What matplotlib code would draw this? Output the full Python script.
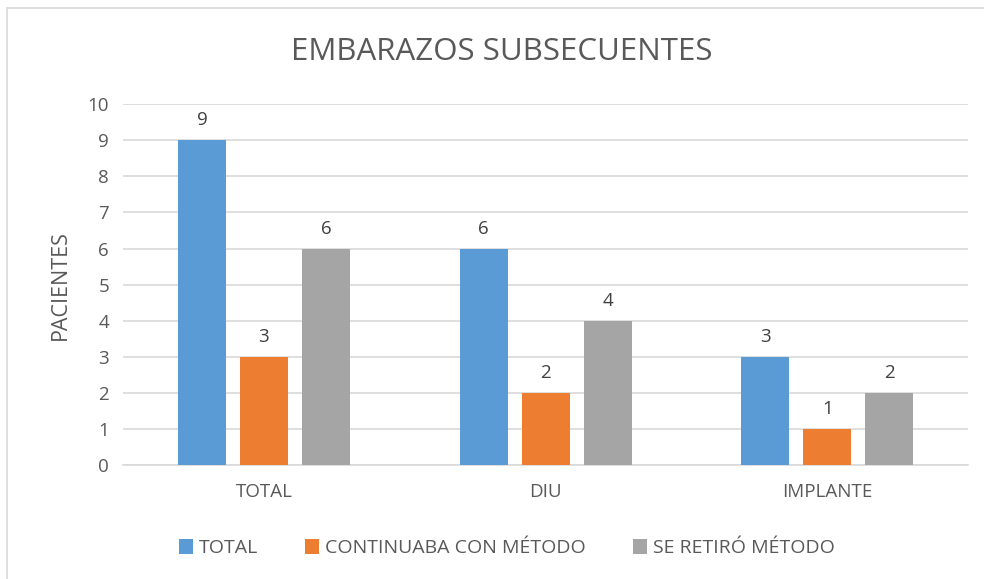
import matplotlib.pyplot as plt
import numpy as np
from matplotlib.patches import Rectangle

# data
categories = ['TOTAL', 'DIU', 'IMPLANTE']
series_names = ['TOTAL', 'CONTINUABA CON MÉTODO', 'SE RETIRÓ MÉTODO']
total = [9, 6, 3]
continuaba = [3, 2, 1]
retiro = [6, 4, 2]
colors = ['#5B9BD5', '#ED7D31', '#A5A5A5']

plt.rcParams['font.family'] = ['Open Sans', 'DejaVu Sans']
txt = '#595959'

fig = plt.figure(figsize=(9.84, 5.79), dpi=100)
ax = fig.add_axes([0.125, 0.197, 0.859, 0.623])

# outer chart border (only top/left visible in the crop)
fig.patches.append(Rectangle((7 / 984, -0.1), 1.2, 1.1 - 8 / 579,
                             transform=fig.transFigure, fill=False,
                             edgecolor='#D9D9D9', linewidth=1.2))

x = np.arange(len(categories))
offset = 0.22
width = 0.171
for i, (vals, name) in enumerate(zip([total, continuaba, retiro], series_names)):
    bars = ax.bar(x + (i - 1) * offset, vals, width, color=colors[i], label=name, zorder=3)
    for b, v in zip(bars, vals):
        ax.text(b.get_x() + b.get_width() / 2, v + 0.3, str(v), ha='center', va='bottom',
                fontsize=13.5, color='#404040')

ax.set_xlim(-0.5, 2.5)
ax.set_ylim(0, 10)
ax.set_yticks(range(0, 11))
ax.yaxis.grid(True, color='#D9D9D9', linewidth=1.2, zorder=0)
ax.set_axisbelow(True)
for s in ['top', 'right', 'left']:
    ax.spines[s].set_visible(False)
ax.spines['bottom'].set_color('#D9D9D9')
ax.spines['bottom'].set_linewidth(1.2)
ax.tick_params(axis='both', length=0, labelsize=13.5, colors=txt)
ax.tick_params(axis='x', pad=13)
ax.tick_params(axis='y', pad=10)
ax.set_xticks(x)
ax.set_xticklabels(categories)

ax.set_ylabel('PACIENTES', fontsize=15.5, color=txt, labelpad=12)
fig.text(0.51, 0.91, 'EMBARAZOS SUBSECUENTES', ha='center', va='center', fontsize=22.5, color=txt)

ax.legend(loc='center', bbox_to_anchor=(0.515, 0.053), bbox_transform=fig.transFigure,
          ncol=3, frameon=False, fontsize=14, labelcolor=txt, handlelength=0.75,
          handleheight=0.75, handletextpad=0.3, columnspacing=2.4)

fig.savefig('out.png', dpi=100, facecolor='white')
